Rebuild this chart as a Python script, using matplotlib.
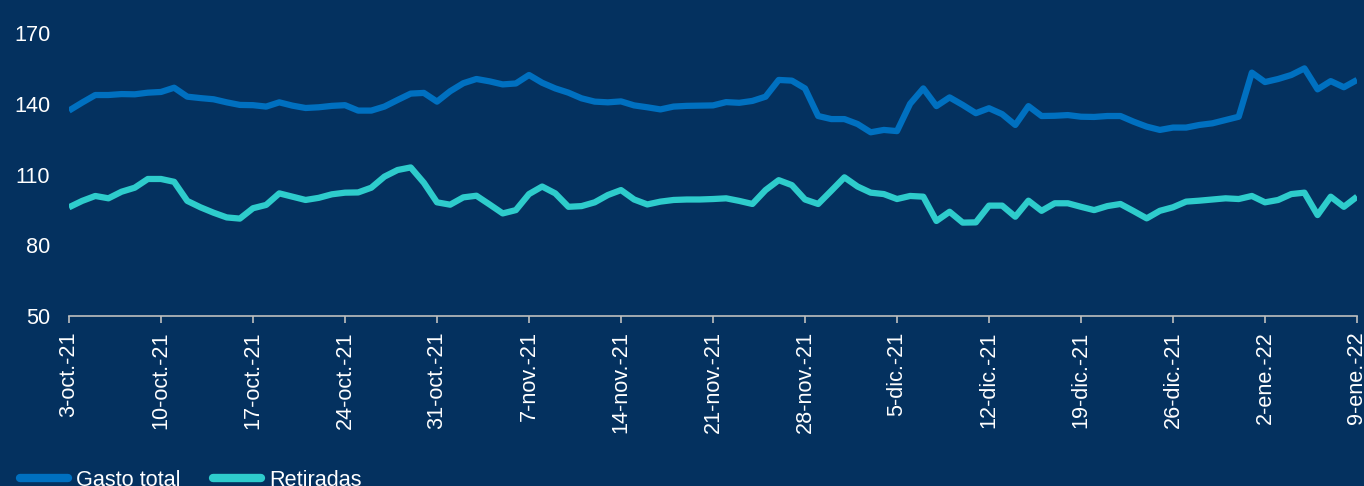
import matplotlib
matplotlib.use("Agg")
import matplotlib.pyplot as plt
import numpy as np
import pandas as pd

plt.rcParams['font.family'] = ['Liberation Sans', 'DejaVu Sans']

start_date = "2021-10-03"
gasto_total = [
    137.1, 140.5, 143.7, 143.7, 144.1, 144.0, 144.7, 145.0, 146.8, 143.0,
    142.4, 141.9, 140.6, 139.5, 139.4, 138.8, 140.6, 139.2, 138.2, 138.5,
    139.1, 139.4, 137.1, 137.1, 138.8, 141.6, 144.3, 144.6, 140.9, 145.3,
    148.7, 150.5, 149.5, 148.2, 148.6, 152.2, 148.9, 146.5, 144.7, 142.3,
    140.9, 140.6, 141.0, 139.3, 138.5, 137.6, 138.8, 139.1, 139.2, 139.3,
    140.7, 140.4, 141.2, 143.0, 150.1, 149.8, 146.5, 134.8, 133.5, 133.5,
    131.4, 127.9, 128.9, 128.4, 140.0, 146.5, 139.0, 142.7, 139.5, 136.0,
    138.1, 135.6, 131.0, 139.0, 134.8, 134.9, 135.2, 134.5, 134.4, 134.8,
    134.8, 132.4, 130.3, 128.9, 129.9, 129.9, 131.0, 131.7, 133.1, 134.5,
    153.2, 149.2, 150.5, 152.2, 155.0, 146.1, 149.6, 147.0, 150.1,
]
retiradas = [
    96.1, 98.8, 100.9, 99.9, 102.7, 104.4, 108.1, 108.1, 106.9, 98.8,
    96.1, 93.8, 91.8, 91.3, 95.7, 97.1, 102.0, 100.6, 99.2, 100.1,
    101.6, 102.3, 102.4, 104.4, 109.1, 111.9, 113.0, 106.5, 98.2, 97.2,
    100.3, 101.0, 97.3, 93.5, 94.9, 101.7, 104.9, 102.0, 96.3, 96.6,
    98.2, 101.3, 103.4, 99.4, 97.3, 98.5, 99.2, 99.4, 99.4, 99.6,
    99.9, 98.8, 97.5, 103.4, 107.6, 105.5, 99.4, 97.5, 103.1, 108.8,
    104.9, 102.3, 101.7, 99.6, 100.9, 100.6, 90.3, 94.2, 89.6, 89.7,
    96.8, 96.8, 92.1, 98.9, 94.6, 97.8, 97.8, 96.3, 94.9, 96.6,
    97.5, 94.5, 91.4, 94.6, 96.1, 98.5, 98.9, 99.4, 99.9, 99.6,
    100.9, 98.2, 99.2, 101.7, 102.3, 92.8, 100.6, 96.3, 100.6,
]
tick_labels = ["3-oct.-21", "10-oct.-21", "17-oct.-21", "24-oct.-21", "31-oct.-21",
               "7-nov.-21", "14-nov.-21", "21-nov.-21", "28-nov.-21", "5-dic.-21",
               "12-dic.-21", "19-dic.-21", "26-dic.-21", "2-ene.-22", "9-ene.-22"]
y_ticks = [50, 80, 110, 140, 170]
series_names = ["Gasto total", "Retiradas"]

dates = pd.date_range(start_date, periods=len(gasto_total), freq="D")
tick_dates = pd.date_range(start_date, periods=len(tick_labels), freq="7D")

BG = "#04315F"
BLUE = "#0070C0"
TURQ = "#2ECCCC"
GRAY = "#BFBFBF"
TXT = "#FFFFFF"
FS = 15.6

fig = plt.figure(figsize=(13.64, 4.86), dpi=100, facecolor=BG)
ax = fig.add_axes([69/1364, 1-316/486, (1357-69)/1364, (316-33)/486])
ax.set_facecolor(BG)

ax.plot(dates, gasto_total, color=BLUE, lw=4.5, solid_joinstyle='round',
        solid_capstyle='butt', label=series_names[0])
ax.plot(dates, retiradas, color=TURQ, lw=4.5, solid_joinstyle='round',
        solid_capstyle='butt', label=series_names[1])

ax.set_xlim(dates[0], dates[-1])
ax.set_ylim(50, 170)
ax.set_yticks(y_ticks)
ax.set_yticklabels([str(v) for v in y_ticks])
ax.set_xticks(tick_dates)
ax.set_xticklabels(tick_labels, rotation=90, va='top', ha='center')

for s in ['top', 'right', 'left']:
    ax.spines[s].set_visible(False)
ax.spines['bottom'].set_color(GRAY)
ax.spines['bottom'].set_linewidth(1.2)
ax.spines['bottom'].set_zorder(0)

ax.tick_params(axis='x', colors=GRAY, length=5, width=1.2, direction='out',
               labelsize=FS, labelcolor=TXT, pad=6)
ax.tick_params(axis='y', length=0, labelsize=FS, labelcolor=TXT, pad=13.5)

leg = fig.legend(loc='center left', bbox_to_anchor=(20/1364, 1-480/486),
                 ncol=2, frameon=False, fontsize=FS, handlelength=2.2,
                 handletextpad=0.4, columnspacing=1.5, borderpad=0,
                 borderaxespad=0)
for t in leg.get_texts():
    t.set_color(TXT)
for h in leg.get_lines():
    h.set_linewidth(6)
    h.set_solid_capstyle('round')

fig.savefig("out.png", dpi=100, facecolor=BG)
